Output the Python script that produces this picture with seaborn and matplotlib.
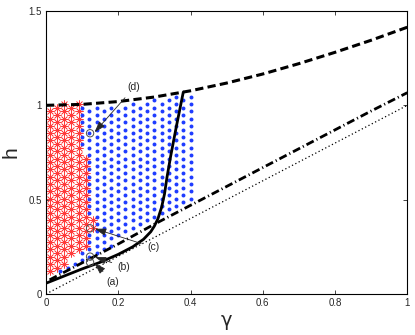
import numpy as np
import pandas as pd
import seaborn as sns
import matplotlib
matplotlib.use("Agg")
import matplotlib.pyplot as plt

# ---------- curves ----------
upper_gamma = [0.0, 0.1, 0.2, 0.3, 0.4, 0.5, 0.6, 0.7, 0.8, 0.9, 1.0]
upper_h = [1.0, 1.005, 1.02, 1.044, 1.077, 1.118, 1.166, 1.221, 1.281, 1.345, 1.414]

dashdot_gamma = [0.01, 0.1, 0.2, 0.3, 0.4, 0.5, 0.6, 0.7, 0.8, 0.9, 1.0]
dashdot_h = [0.075, 0.165, 0.265, 0.37, 0.47, 0.57, 0.67, 0.77, 0.87, 0.97, 1.067]

dotted_gamma = [0.0, 1.0]
dotted_h = [0.0, 1.0]

solid_gamma = [0.0, 0.05, 0.10, 0.15, 0.20, 0.24, 0.27, 0.29, 0.30, 0.31, 0.32, 0.328, 0.335, 0.345, 0.36, 0.38]
solid_h = [0.057, 0.095, 0.133, 0.168, 0.21, 0.25, 0.29, 0.33, 0.36, 0.40, 0.46, 0.53, 0.62, 0.73, 0.88, 1.07]

# ---------- region boundaries ----------
red_right_h = [0.07, 0.2, 0.3, 0.36, 0.45, 0.6, 0.75, 0.9, 1.02]
red_right_gamma = [0.0, 0.1, 0.12, 0.14, 0.12, 0.12, 0.11, 0.09, 0.09]
red_low_gamma = [0.0, 0.05, 0.08, 0.14]
red_low_h = [0.07, 0.15, 0.2, 0.3]
blue_max_gamma = 0.40

# sample points and their labels
sample_gamma = [0.122, 0.122, 0.122, 0.122]
sample_h = [0.168, 0.198, 0.348, 0.852]
labels = ["(a)", "(b)", "(c)", "(d)"]
label_gamma = [0.186, 0.216, 0.297, 0.244]
label_h = [0.065, 0.145, 0.247, 1.095]

# lattice used for the pattern markers
col_step = 0.02
row_step = 0.0385
row_start = 0.0055


def lattice(g0, ncols):
    pts = []
    for i in range(ncols):
        g = g0 + col_step * i
        off = row_start + (row_step / 2 if i % 2 else 0)
        for k in range(40):
            pts.append((g, off + row_step * k))
    return pd.DataFrame(pts, columns=["gamma", "h"])


red_pts = lattice(0.01, 8)
top = np.interp(red_pts["gamma"], upper_gamma, upper_h)
low = np.interp(red_pts["gamma"], red_low_gamma, red_low_h)
right = np.interp(red_pts["h"], red_right_h, red_right_gamma)
red_pts = red_pts[(red_pts["h"] <= top + 0.005) & (red_pts["h"] >= low) &
                  (red_pts["gamma"] <= right) & (red_pts["h"] >= red_right_h[0])]

blue_pts = lattice(0.0, 21)
top = np.interp(blue_pts["gamma"], upper_gamma, upper_h)
bottom = np.interp(blue_pts["gamma"], dashdot_gamma, dashdot_h)
low = np.interp(blue_pts["gamma"], red_low_gamma, red_low_h)
right = np.interp(blue_pts["h"], red_right_h, red_right_gamma)
is_red = (blue_pts["gamma"] < right - 0.005) & (blue_pts["h"] >= low - 0.01)
blue_pts = blue_pts[(blue_pts["h"] < top - 0.015) & (blue_pts["h"] > bottom + 0.01) &
                    (blue_pts["gamma"] > 0.02) &
                    (blue_pts["gamma"] <= blue_max_gamma + 0.001) & ~is_red]

sns.set_theme(style="ticks", rc={"xtick.direction": "in", "ytick.direction": "in"})
plt.rcParams["font.family"] = ["Liberation Sans", "DejaVu Sans"]

fig = plt.figure(figsize=(4.15, 3.35), dpi=100)
ax = fig.add_axes([0.1108, 0.1224, 0.8707, 0.8448])

sns.scatterplot(data=red_pts, x="gamma", y="h", ax=ax, marker=(8, 2, 0), s=30,
                color="#ff3a3a", linewidth=0.5, edgecolor="#ff3a3a", zorder=2, legend=False)
sns.scatterplot(data=blue_pts, x="gamma", y="h", ax=ax, marker="o", s=8,
                color="#1f3cff", linewidth=0, zorder=2, legend=False)

sns.lineplot(x=upper_gamma, y=upper_h, ax=ax, color="black", lw=2.2, sort=False, estimator=None)
ax.lines[-1].set_linestyle((0, (2.7, 1.4)))
sns.lineplot(x=dashdot_gamma, y=dashdot_h, ax=ax, color="black", lw=2.0, sort=False, estimator=None)
ax.lines[-1].set_linestyle((0, (2.9, 1.1, 0.4, 1.1)))
sns.lineplot(x=dotted_gamma, y=dotted_h, ax=ax, color="black", lw=0.9, sort=False, estimator=None)
ax.lines[-1].set_linestyle((0, (1, 2)))
sns.lineplot(x=solid_gamma, y=solid_h, ax=ax, color="black", lw=2.0, sort=False, estimator=None)

ax.scatter(sample_gamma, sample_h, s=28, facecolors="none", edgecolors="0.3", linewidths=0.7, zorder=4)
for lab, sg, sh, lg, lh in zip(labels, sample_gamma, sample_h, label_gamma, label_h):
    ax.annotate(lab, xy=(sg + 0.01, sh), xytext=(lg, lh), fontsize=7.5, ha="center", va="center",
                arrowprops=dict(arrowstyle="-|>,head_length=0.9,head_width=0.3", lw=0.6,
                                color="0.15", shrinkA=2, shrinkB=1), zorder=5)

ax.set_xlim(0, 1)
ax.set_ylim(0, 1.5)
ax.set_xticks([0, 0.2, 0.4, 0.6, 0.8, 1])
ax.set_xticklabels(["0", "0.2", "0.4", "0.6", "0.8", "1"])
ax.set_yticks([0, 0.5, 1, 1.5])
ax.set_yticklabels(["0", "0.5", "1", "1.5"])
ax.tick_params(axis="both", labelsize=7, length=3, width=0.6, top=True, right=True, pad=3)
for sp in ax.spines.values():
    sp.set_linewidth(0.8)
    sp.set_color("black")
ax.set_xlabel("γ", fontsize=14, labelpad=2, family=["DejaVu Sans"])
ax.set_ylabel("h", fontsize=15, labelpad=6)

fig.savefig("out.png", dpi=100)
